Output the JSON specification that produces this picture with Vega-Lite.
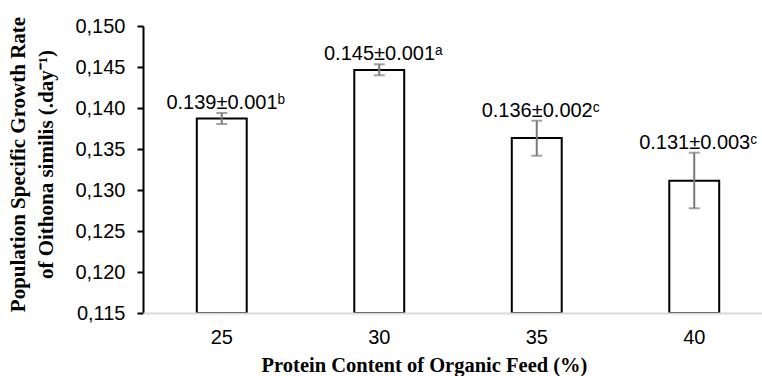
{
  "$schema": "https://vega.github.io/schema/vega-lite/v6.json",
  "width": 630,
  "height": 287,
  "autosize": {"type": "none"},
  "padding": {"left": 143, "top": 26, "right": 0, "bottom": 63},
  "background": "white",
  "config": {
    "view": {"stroke": null},
    "font": "Liberation Sans",
    "axis": {"labelFont": "Liberation Sans", "labelColor": "black", "titleColor": "black", "grid": false},
    "axisY": {"titleLineHeight": 28}
  },
  "data": {
    "values": [
      {"protein": "25", "rate": 0.13872, "lo": 0.13805, "hi": 0.13939, "label": "0.139±0.001ᵇ"},
      {"protein": "30", "rate": 0.14463, "lo": 0.14399, "hi": 0.14533, "label": "0.145±0.001ᵃ"},
      {"protein": "35", "rate": 0.13634, "lo": 0.13418, "hi": 0.13845, "label": "0.136±0.002ᶜ"},
      {"protein": "40", "rate": 0.13113, "lo": 0.12777, "hi": 0.13455, "label": "0.131±0.003ᶜ"}
    ]
  },
  "encoding": {
    "x": {
      "field": "protein",
      "type": "ordinal",
      "sort": null,
      "scale": {"paddingInner": 0.683, "paddingOuter": 0.3415},
      "axis": {
        "labelAngle": 0,
        "labelFontSize": 20,
        "labelPadding": 14,
        "ticks": false,
        "domainColor": "#d9d9d9",
        "domainWidth": 2,
        "zindex": 1,
        "title": "Protein Content of Organic Feed (%)",
        "titleFont": "Liberation Serif",
        "titleFontWeight": "bold",
        "titleFontSize": 20.5,
        "titlePadding": 8,
        "titleX": 281
      }
    }
  },
  "layer": [
    {
      "mark": {"type": "bar", "fill": "white", "stroke": "black", "strokeWidth": 2},
      "encoding": {
        "y": {
          "field": "rate",
          "type": "quantitative",
          "scale": {"domain": [0.115, 0.15], "zero": false, "nice": false},
          "axis": {
            "values": [0.115, 0.12, 0.125, 0.13, 0.135, 0.14, 0.145, 0.15],
            "labelExpr": "replace(format(datum.value, '.3f'), '.', ',')",
            "labelFontSize": 20,
            "labelPadding": 12,
            "tickSize": 6,
            "tickWidth": 2,
            "tickColor": "black",
            "domainColor": "black",
            "domainWidth": 2,
            "title": ["Population Specific Growth Rate", "of Oithona similis (.day⁻¹)"],
            "titleFont": "Liberation Serif",
            "titleFontWeight": "bold",
            "titleFontSize": 21,
            "titleLineHeight": 28,
            "titlePadding": 18,
            "titleY": 138
          }
        },
        "y2": {"datum": 0.115}
      }
    },
    {
      "mark": {"type": "rule", "color": "#7a7a7a", "strokeWidth": 2},
      "encoding": {
        "y": {"field": "lo", "type": "quantitative"},
        "y2": {"field": "hi"}
      }
    },
    {
      "mark": {"type": "tick", "color": "#7a7a7a", "size": 11, "thickness": 2},
      "encoding": {"y": {"field": "lo", "type": "quantitative"}}
    },
    {
      "mark": {"type": "tick", "color": "#7a7a7a", "size": 11, "thickness": 2},
      "encoding": {"y": {"field": "hi", "type": "quantitative"}}
    },
    {
      "mark": {"type": "text", "fontSize": 20, "font": "Liberation Sans", "baseline": "alphabetic", "dy": -4, "dx": 4, "color": "black"},
      "encoding": {
        "y": {"field": "hi", "type": "quantitative"},
        "text": {"field": "label"}
      }
    }
  ]
}
